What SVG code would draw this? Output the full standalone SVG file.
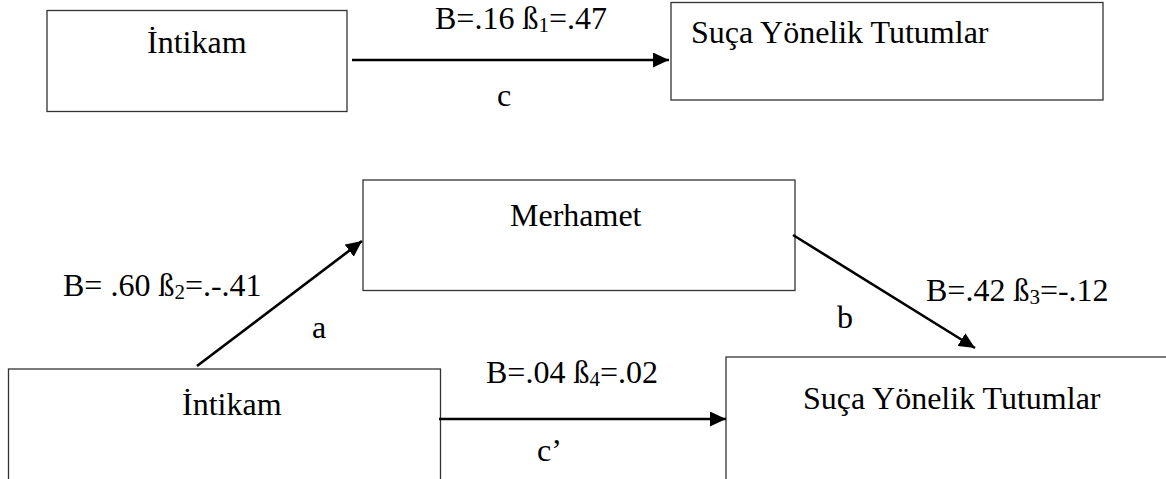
<svg xmlns="http://www.w3.org/2000/svg" width="1166" height="479" viewBox="0 0 1166 479">
<defs>
<style>
.box{fill:#fff;stroke:#333;stroke-width:1.3}
.t{font-family:"Liberation Serif","Times New Roman",serif;font-size:32px;fill:#000}
.sub{font-size:21px}
.conn{stroke:#000;stroke-width:2.6;fill:none}
</style>
<marker id="ah" viewBox="0 0 16 15" refX="16" refY="7.5" markerWidth="16" markerHeight="15" markerUnits="userSpaceOnUse" orient="auto">
<path d="M0,0 L16,7.5 L0,15 Z" fill="#000"/>
</marker>
</defs>
<rect width="1166" height="479" fill="#fff"/>
<g id="top-intikam">
<rect class="box" x="47" y="10.5" width="300" height="101"/>
<text class="t" x="147" y="53">İntikam</text>
</g>
<g id="top-suca">
<rect class="box" x="671" y="2.5" width="432" height="97.5"/>
<text class="t" x="691" y="43">Suça Yönelik Tutumlar</text>
</g>
<g id="merhamet">
<rect class="box" x="363" y="180" width="432" height="110.5"/>
<text class="t" x="510" y="226">Merhamet</text>
</g>
<g id="bottom-intikam">
<rect class="box" x="8.5" y="369" width="432" height="130"/>
<text class="t" x="182" y="415">İntikam</text>
</g>
<g id="bottom-suca">
<rect class="box" x="726" y="357" width="460" height="140"/>
<text class="t" x="803" y="409">Suça Yönelik Tutumlar</text>
</g>
<g id="connectors">
<line class="conn" x1="352" y1="60" x2="669" y2="60" marker-end="url(#ah)"/>
<line class="conn" x1="197" y1="366" x2="362" y2="241" marker-end="url(#ah)"/>
<line class="conn" x1="793" y1="235" x2="975" y2="348" marker-end="url(#ah)"/>
<line class="conn" x1="439" y1="419" x2="726" y2="419" marker-end="url(#ah)"/>
</g>
<g id="labels">
<text class="t" x="435" y="29">B=.16 ß<tspan class="sub" dy="3">1</tspan><tspan dy="-3">=.47</tspan></text>
<text class="t" x="497" y="106">c</text>
<text class="t" x="63" y="296">B= .60 ß<tspan class="sub" dy="3">2</tspan><tspan dy="-3">=.-.41</tspan></text>
<text class="t" x="312" y="338">a</text>
<text class="t" x="926" y="301">B=.42 ß<tspan class="sub" dy="3">3</tspan><tspan dy="-3">=-.12</tspan></text>
<text class="t" x="837" y="328">b</text>
<text class="t" x="486" y="383">B=.04 ß<tspan class="sub" dy="3">4</tspan><tspan dy="-3">=.02</tspan></text>
<text class="t" x="537" y="461">c’</text>
</g>
</svg>
